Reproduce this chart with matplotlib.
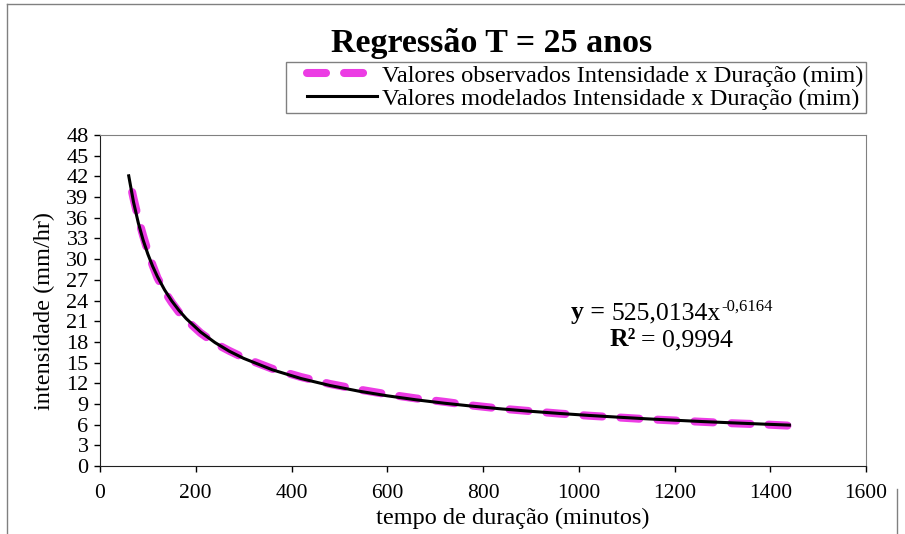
import matplotlib.pyplot as plt
from matplotlib.lines import Line2D
from matplotlib.legend_handler import HandlerLine2D
from matplotlib.transforms import IdentityTransform

plt.rcParams["font.family"] = ["Liberation Serif", "DejaVu Serif"]

# duração (min) e intensidade (mm/hr)
duracao = [60, 70, 80, 90, 100, 110, 120, 135, 150, 165, 180, 210, 240, 270, 300,
           360, 420, 480, 540, 600, 660, 720, 780, 840, 900, 960, 1020, 1080,
           1140, 1200, 1260, 1320, 1380, 1440]
observado = [42.0, 38.8, 35.9, 33.4, 31.1, 29.1, 27.3, 25.3, 23.7, 22.3, 21.2,
             19.3, 17.8, 16.7, 15.7, 14.1, 12.9, 11.9, 11.1, 10.4, 9.8, 9.3,
             8.75, 8.3, 7.95, 7.6, 7.3, 7.05, 6.8, 6.6, 6.4, 6.2, 6.05, 5.85]
modelado = [42.08, 38.27, 35.25, 32.78, 30.72, 28.96, 27.45, 25.53, 23.92, 22.56,
            21.38, 19.44, 17.91, 16.65, 15.61, 13.95, 12.68, 11.68, 10.86, 10.18,
            9.60, 9.10, 8.66, 8.27, 7.93, 7.62, 7.34, 7.09, 6.85, 6.64, 6.44,
            6.26, 6.09, 5.93]

lbl_obs = "Valores observados Intensidade x Duração (mim)"
lbl_mod = "Valores modelados Intensidade x Duração (mim)"
xticks = list(range(0, 1601, 200))
yticks = list(range(0, 49, 3))

MAGENTA = "#EC3CE4"
W, H = 905, 534
DASH = (2.36, 2.24)

fig = plt.figure(figsize=(W / 100, H / 100), dpi=100)
ax = fig.add_axes([100 / W, 1 - 466 / H, 766 / W, 331 / H])

ax.plot(duracao, observado, color=MAGENTA, lw=5.8, ls=(2.6, DASH),
        dash_capstyle="round", solid_capstyle="round")
ax.plot(duracao, modelado, color="black", lw=2.2)

ax.set_xlim(0, 1600)
ax.set_ylim(0, 48)
ax.set_xticks(xticks)
ax.set_yticks(yticks)
ax.tick_params(direction="out", length=4.3, width=1, colors="black", labelsize=15.5)
ax.tick_params(axis="x", pad=8.5)
ax.tick_params(axis="y", pad=4, labelsize=16)

for side in ("top", "right"):
    ax.spines[side].set_color("#808080")
for side in ("left", "bottom"):
    ax.spines[side].set_color("#202020")

ax.set_xlabel("tempo de duração (minutos)", fontsize=17.5)
ax.xaxis.set_label_coords((513 - 100) / 766, -0.125)
ax.set_ylabel("intensidade (mm/hr)", fontsize=17.5)
ax.yaxis.set_label_coords(-0.059, 0.468)

fig.text(492 / W, 1 - 52 / H, "Regressão T = 25 anos", ha="center", va="baseline",
         fontsize=24.5, fontweight="bold")

renderer = fig.canvas.get_renderer()


def linha_mista(xc, y_base, partes):
    # partes: (texto, tamanho, peso, deslocamento vertical px, espaço antes px)
    itens = []
    x = 0
    for s, size, peso, dy, gap in partes:
        x += gap
        t = fig.text(0, H - y_base + dy, s, transform=IdentityTransform(),
                     fontsize=size, fontweight=peso, va="baseline")
        itens.append((t, x))
        x += t.get_window_extent(renderer).width
    x0 = xc - x / 2
    for t, xi in itens:
        t.set_x(x0 + xi)


linha_mista(672, 319, [("y =", 18.5, "bold", 0, 0),
                       ("525,0134x", 18.5, "normal", 0, 6),
                       ("-0,6164", 12, "normal", 8, 0.5)])
linha_mista(671, 346, [("R²", 18.5, "bold", 0, 0),
                       ("= 0,9994", 18.5, "normal", 0, 5)])

handles = [
    Line2D([], [], color=MAGENTA, lw=5.8, ls=(0, DASH),
           dash_capstyle="round", label=lbl_obs),
    Line2D([], [], color="black", lw=2.2, label=lbl_mod),
]
leg = fig.legend(handles=handles, loc="upper right",
                 bbox_to_anchor=(866 / W, 1 - 62 / H), fontsize=17.6,
                 frameon=True, fancybox=False, framealpha=1, edgecolor="#808080",
                 borderpad=0.12, labelspacing=0.02, handlelength=4.34,
                 handletextpad=-0.53, borderaxespad=0,
                 handler_map={Line2D: HandlerLine2D(numpoints=2, marker_pad=0.74)})
leg.get_frame().set_linewidth(1)

# moldura da área do gráfico
fig.add_artist(Line2D([7 / W, 7 / W], [0, 1 - 4 / H], color="#808080", lw=1))
fig.add_artist(Line2D([7 / W, 1], [1 - 4 / H, 1 - 4 / H], color="#808080", lw=1))
fig.add_artist(Line2D([897 / W, 897 / W], [0, 1 - 489 / H], color="#808080", lw=1))

fig.savefig("out.png", dpi=100)
